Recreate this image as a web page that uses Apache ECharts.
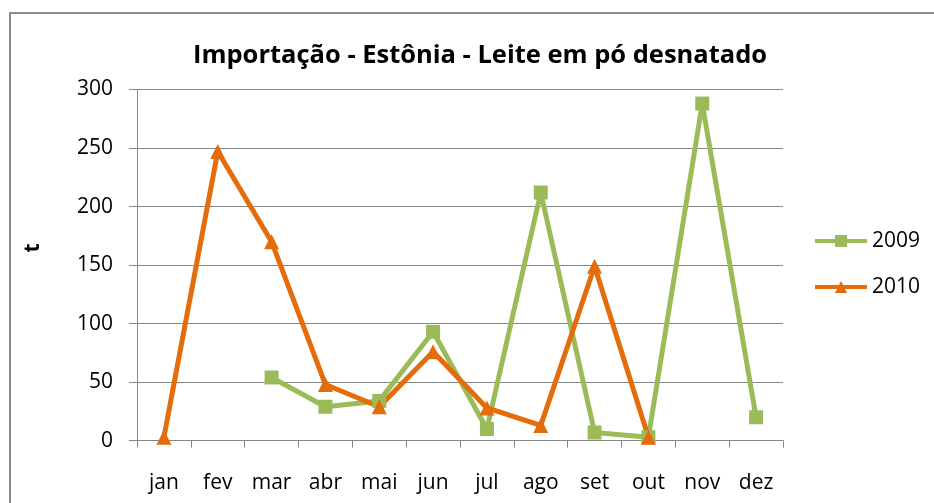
<!DOCTYPE html>
<html>
<head>
  <meta charset="utf-8">
  <title>Importação - Estônia - Leite em pó desnatado</title>
  <script src="https://cdn.jsdelivr.net/npm/echarts@6/dist/echarts.min.js"></script>
  <style>
    html, body { margin: 0; padding: 0; background: #fff; }
    #chart { width: 934px; height: 503px; }
  </style>
</head>
<body>
  <div id="chart"></div>
  <script>
    // dados
    const meses = ['jan', 'fev', 'mar', 'abr', 'mai', 'jun', 'jul', 'ago', 'set', 'out', 'nov', 'dez'];
    const valores2009 = [null, null, 54, 29, 34, 93, 10, 212, 7, 3, 288, 20];
    const valores2010 = [3, 247, 170, 48, 29, 76, 28, 13, 149, 3, null, null];
    const yTicks = [0, 50, 100, 150, 200, 250, 300];

    const fonte = "'Open Sans', 'Noto Sans', sans-serif";
    const cinza = '#868686';

    const chart = echarts.init(document.getElementById('chart'));
    chart.setOption({
      backgroundColor: '#fff',
      animation: false,
      title: {
        text: 'Importação - Estônia - Leite em pó desnatado',
        left: 188,
        top: 38,
        textStyle: { fontFamily: fonte, fontSize: 25.5, fontWeight: 'bold', color: '#000' }
      },
      graphic: [
        // moldura do gráfico (cortada à direita e embaixo)
        {
          type: 'rect',
          shape: { x: 10, y: 13, width: 1000, height: 600 },
          style: { fill: null, stroke: '#8c8c8c', lineWidth: 2 },
          silent: true
        },
        {
          type: 'text',
          x: 33, y: 248,
          rotation: Math.PI / 2,
          style: {
            text: 't', fontFamily: fonte, fontSize: 21, fontWeight: 'bold', fill: '#000',
            align: 'center', verticalAlign: 'middle'
          }
        }
      ],
      legend: {
        orient: 'vertical',
        left: 808,
        top: 224,
        itemWidth: 52,
        itemHeight: 15,
        itemGap: 22,
        lineStyle: { width: 4 },
        textStyle: { fontFamily: fonte, fontSize: 21, color: '#000', lineHeight: 24 },
        data: ['2009', '2010']
      },
      grid: { left: 137, right: 151, top: 89.5, bottom: 62.3 },
      xAxis: {
        type: 'category',
        data: meses,
        boundaryGap: true,
        axisLine: { lineStyle: { color: cinza, width: 1 } },
        axisTick: { show: true, length: 7, lineStyle: { color: cinza } },
        axisLabel: { fontFamily: fonte, fontSize: 21, color: '#000', margin: 32 }
      },
      yAxis: {
        type: 'value',
        min: yTicks[0],
        max: yTicks[yTicks.length - 1],
        interval: 50,
        axisLine: { show: true, lineStyle: { color: cinza, width: 1 } },
        axisTick: { show: true, length: 8, lineStyle: { color: cinza } },
        axisLabel: { fontFamily: fonte, fontSize: 21, color: '#000', margin: 24 },
        splitLine: { lineStyle: { color: cinza, width: 1 } }
      },
      series: [
        {
          name: '2009',
          type: 'line',
          data: valores2009,
          symbol: 'rect',
          symbolSize: 14,
          color: '#9BBB59',
          lineStyle: { width: 5, color: '#9BBB59' },
          itemStyle: { color: '#9BBB59' }
        },
        {
          name: '2010',
          type: 'line',
          data: valores2010,
          symbol: 'triangle',
          symbolSize: 15,
          color: '#E46C0A',
          lineStyle: { width: 5, color: '#E46C0A' },
          itemStyle: { color: '#E46C0A' }
        }
      ]
    });
  </script>
</body>
</html>
